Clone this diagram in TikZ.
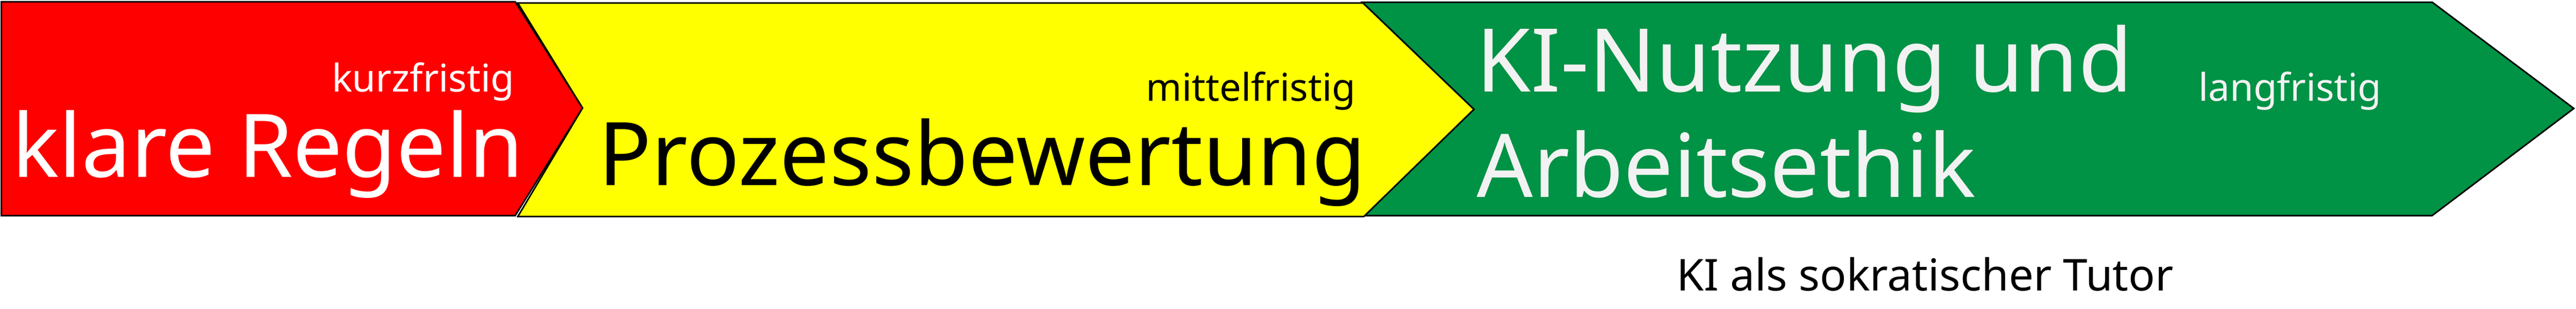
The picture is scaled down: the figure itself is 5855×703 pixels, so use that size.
\documentclass[tikz,border=0pt]{standalone}
\usepackage{fontspec}
\setmainfont{Noto Sans}
\definecolor{arrowred}{RGB}{255,0,0}
\definecolor{arrowyellow}{RGB}{255,255,0}
\definecolor{arrowgreen}{RGB}{0,146,69}
\definecolor{lighttext}{RGB}{242,242,242}
\newcommand\bigtxt{\fontsize{56.9pt}{68.3pt}\selectfont}
\newcommand\smalltxt{\fontsize{24.75pt}{29.7pt}\selectfont}
\newcommand\bottomtxt{\fontsize{28.45pt}{34.1pt}\selectfont}
\begin{document}
\begin{tikzpicture}[x=0.01cm,y=-0.01cm,
  arrowshape/.style={draw=black,line width=1pt,line join=miter},
  lbl/.style={inner sep=0pt,outer sep=0pt}]
\useasboundingbox (0,0) rectangle (5855,703);
% shapes
\path[arrowshape,fill=arrowgreen] (3096,5) -- (5528,5) -- (5850,247) -- (5528,491) -- (3100,491) -- (3350,249) -- cycle;
\path[arrowshape,fill=arrowyellow] (1177,7) -- (3098,7) -- (3350,249) -- (3100,493) -- (1177,493) -- (1324,246) -- cycle;
\path[arrowshape,fill=arrowred] (3,4) -- (1171,4) -- (1324,246) -- (1171,491) -- (3,491) -- cycle;
% texts
\node[lbl,anchor=base west,text=white] (klare) at (27,403) {\bigtxt klare Regeln};
\node[lbl,anchor=base east,text=white] (kurz) at (1169,209) {\smalltxt kurzfristig};
\node[lbl,anchor=base west,text=black] (prozess) at (1360,422) {\bigtxt Prozessbewertung};
\node[lbl,anchor=base east,text=black] (mittel) at (3081,230) {\smalltxt mittelfristig};
\node[lbl,anchor=base west,text=lighttext] (kinutz) at (3356,209) {\bigtxt KI-Nutzung und};
\node[lbl,anchor=base west,text=lighttext] (arbeit) at (3357,449) {\bigtxt Arbeitsethik};
\node[lbl,anchor=base west,text=lighttext] (lang) at (4997,230) {\smalltxt langfristig};
\node[lbl,anchor=base west,text=black] (tutor) at (3811,662) {\bottomtxt KI als sokratischer Tutor};
\end{tikzpicture}
\end{document}
